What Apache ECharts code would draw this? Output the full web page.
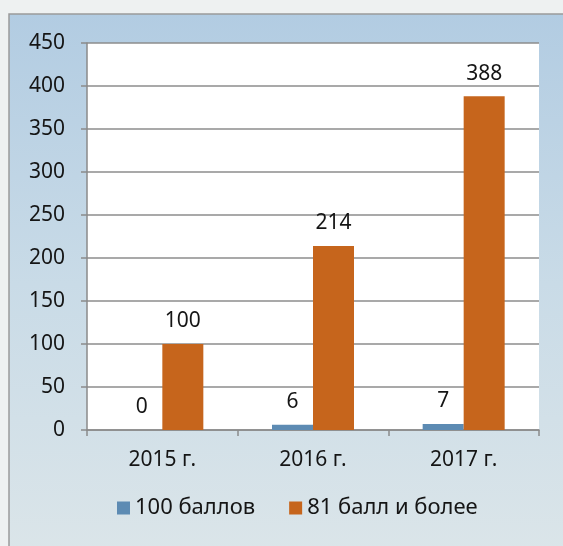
<!DOCTYPE html>
<html>
<head>
<meta charset="utf-8">
<script src="https://cdn.jsdelivr.net/npm/echarts@6/dist/echarts.min.js"></script>
<style>
html,body{margin:0;padding:0;background:#eef1f1;}
#chart{width:563px;height:546px;}
</style>
</head>
<body>
<div id="chart"></div>
<script>
var categories = ['2015 г.', '2016 г.', '2017 г.'];
var seriesNames = ['100 баллов', '81 балл и более'];
var values100 = [0, 6, 7];
var values81 = [100, 214, 388];
var yTicks = {min: 0, max: 450, interval: 50};

var chart = echarts.init(document.getElementById('chart'), null, {renderer: 'canvas'});
var font = '"Noto Sans", "Open Sans", sans-serif';
var option = {
  animation: false,
  backgroundColor: '#eef1f1',
  graphic: [
    {
      type: 'rect', z: -10, silent: true,
      shape: {x: 9, y: 14, width: 560, height: 540},
      style: {
        fill: new echarts.graphic.LinearGradient(0, 0, 0, 1, [
          {offset: 0, color: '#b2cce2'},
          {offset: 0.5, color: '#c9dbe7'},
          {offset: 1, color: '#dbe5e9'}
        ]),
        stroke: '#9a9a9a', lineWidth: 1.5
      }
    }
  ],
  grid: {left: 87, right: 24, top: 43, bottom: 116, show: true, backgroundColor: '#ffffff', borderWidth: 0},
  legend: {
    data: seriesNames,
    bottom: 22,
    left: 112,
    itemWidth: 13, itemHeight: 13,
    itemGap: 34,
    icon: 'rect',
    textStyle: {fontFamily: font, fontSize: 22, color: '#151515'}
  },
  xAxis: {
    type: 'category',
    data: categories,
    axisLine: {lineStyle: {color: '#8a8a8a', width: 1.5}},
    axisTick: {show: true, length: 6, lineStyle: {color: '#8a8a8a', width: 1.5}},
    axisLabel: {fontFamily: font, fontSize: 21, color: '#151515', margin: 20}
  },
  yAxis: {
    type: 'value',
    min: yTicks.min, max: yTicks.max, interval: yTicks.interval,
    axisLine: {show: true, lineStyle: {color: '#8a8a8a', width: 1.5}},
    axisTick: {show: true, length: 6, lineStyle: {color: '#8a8a8a', width: 1.5}},
    splitLine: {lineStyle: {color: '#8c8c8c', width: 1.5}},
    axisLabel: {fontFamily: font, fontSize: 21, color: '#151515', margin: 22}
  },
  series: [
    {
      name: seriesNames[0], type: 'bar', data: values100,
      barWidth: 41, barGap: '0%',
      itemStyle: {color: '#5d8bb3'},
      label: {show: true, position: 'top', distance: 12, fontFamily: font, fontSize: 21, color: '#151515'}
    },
    {
      name: seriesNames[1], type: 'bar', data: values81,
      barWidth: 41, barGap: '0%',
      itemStyle: {color: '#c6651c'},
      label: {show: true, position: 'top', distance: 12, fontFamily: font, fontSize: 21, color: '#151515'}
    }
  ]
};
chart.setOption(option);
</script>
</body>
</html>
